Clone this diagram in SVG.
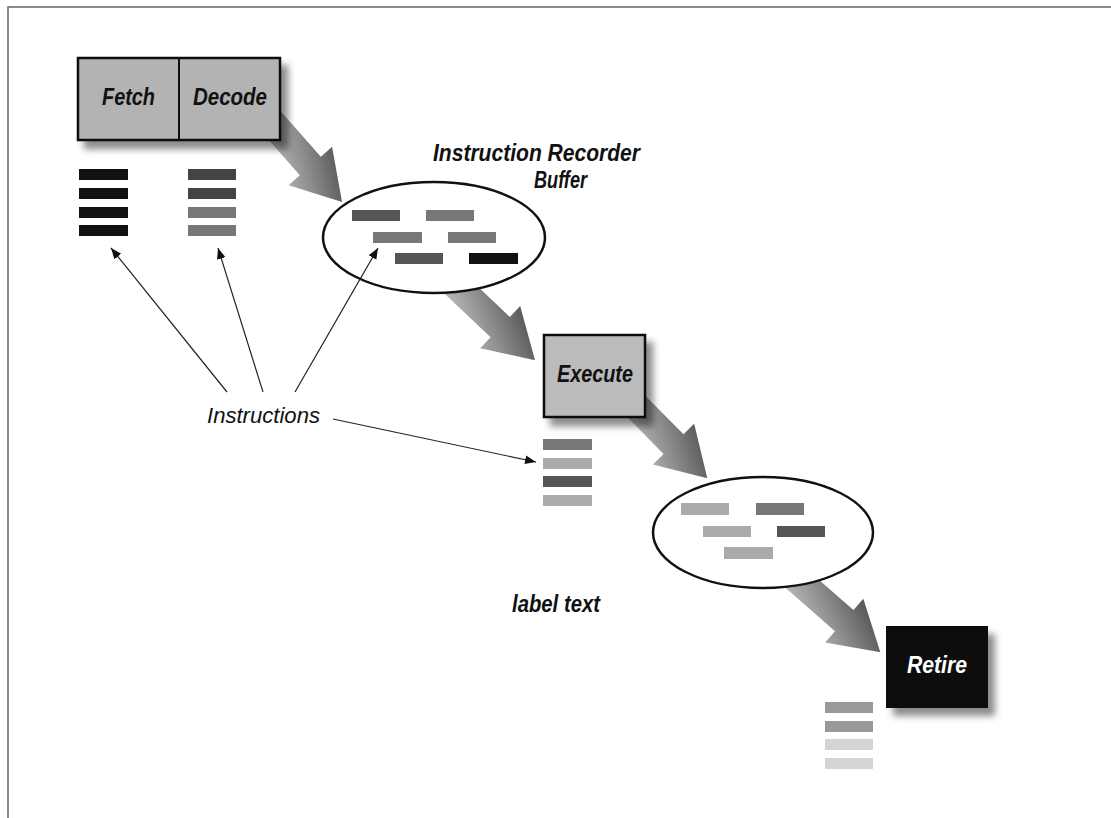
<svg xmlns="http://www.w3.org/2000/svg" width="1111" height="818" viewBox="0 0 1111 818">
<defs>
  <filter id="sh" x="-20%" y="-20%" width="150%" height="150%">
    <feDropShadow dx="7" dy="8" stdDeviation="3.5" flood-color="#000" flood-opacity="0.45"/>
  </filter>
  <linearGradient id="ag" x1="0" y1="1" x2="1" y2="0">
    <stop offset="0" stop-color="#d6d6d6"/>
    <stop offset="0.5" stop-color="#8c8c8c"/>
    <stop offset="1" stop-color="#3c3c3c"/>
  </linearGradient>
  <marker id="ah" viewBox="0 0 10 10" refX="10" refY="5" markerWidth="11" markerHeight="11" markerUnits="userSpaceOnUse" orient="auto">
    <path d="M0,1 L10,5 L0,9 Z" fill="#111"/>
  </marker>
  <style>
    .box{stroke:#111;stroke-width:2.5}
    .lbl{font-family:"Liberation Sans",Arial,sans-serif;font-weight:bold;font-style:italic;font-size:24px;fill:#111}
    .ins{font-family:"Liberation Sans",Arial,sans-serif;font-style:italic;font-size:22px;fill:#111}
    .ell{fill:#fff;stroke:#111;stroke-width:2.5}
    .thin{stroke:#222;stroke-width:1.2;fill:none;marker-end:url(#ah)}
    .big{fill:url(#ag)}
  </style>
</defs>

<rect x="8" y="7" width="1115" height="830" fill="#fff" stroke="#666" stroke-width="1.5"/>

<g id="flow-arrows">
  <path class="big" transform="translate(268,118) rotate(48.6)" d="M0,-14 L64,-14 L64,-29 L112,0 L64,29 L64,14 L0,14 Z"/>
  <path class="big" transform="translate(440,270) rotate(43.5)" d="M0,-14 L83,-14 L83,-29 L131,0 L83,29 L83,14 L0,14 Z"/>
  <path class="big" transform="translate(625,395) rotate(45.3)" d="M0,-14 L69,-14 L69,-29 L117,0 L69,29 L69,14 L0,14 Z"/>
  <path class="big" transform="translate(775,560) rotate(41.2)" d="M0,-14 L92,-14 L92,-29 L140,0 L92,29 L92,14 L0,14 Z"/>
</g>

<g id="fetch-decode">
  <rect class="box" x="78" y="58" width="202" height="82" fill="#b3b3b3" filter="url(#sh)"/>
  <line x1="179" y1="58" x2="179" y2="140" stroke="#111" stroke-width="2"/>
  <text class="lbl" x="102" y="105" textLength="53" lengthAdjust="spacingAndGlyphs">Fetch</text>
  <text class="lbl" x="193" y="105" textLength="74" lengthAdjust="spacingAndGlyphs">Decode</text>
</g>

<g id="fetch-stack">
  <rect x="79" y="169" width="49" height="11" fill="#111"/>
  <rect x="79" y="188" width="49" height="11" fill="#111"/>
  <rect x="79" y="207" width="49" height="11" fill="#111"/>
  <rect x="79" y="225" width="49" height="11" fill="#111"/>
</g>

<g id="decode-stack">
  <rect x="188" y="169" width="48" height="11" fill="#444"/>
  <rect x="188" y="188" width="48" height="11" fill="#444"/>
  <rect x="188" y="207" width="48" height="11" fill="#777"/>
  <rect x="188" y="225" width="48" height="11" fill="#777"/>
</g>

<g id="reorder-buffer">
  <ellipse class="ell" cx="434" cy="237.5" rx="111" ry="55.5"/>
  <rect x="352" y="210" width="48" height="11" fill="#555"/>
  <rect x="426" y="210" width="48" height="11" fill="#777"/>
  <rect x="373" y="232" width="49" height="11" fill="#777"/>
  <rect x="448" y="232" width="48" height="11" fill="#777"/>
  <rect x="395" y="253" width="48" height="11" fill="#555"/>
  <rect x="469" y="253" width="49" height="11" fill="#111"/>
</g>

<g id="buffer-label">
  <text class="lbl" x="433" y="161" font-size="21" textLength="207" lengthAdjust="spacingAndGlyphs">Instruction Recorder</text>
  <text class="lbl" x="534" y="188" font-size="21" textLength="53" lengthAdjust="spacingAndGlyphs">Buffer</text>
</g>

<g id="execute">
  <rect class="box" x="544" y="335" width="101" height="82" fill="#bbbbbb" filter="url(#sh)"/>
  <text class="lbl" x="557" y="382" textLength="76" lengthAdjust="spacingAndGlyphs">Execute</text>
</g>

<g id="execute-stack">
  <rect x="543" y="439" width="49" height="11" fill="#777"/>
  <rect x="543" y="458" width="49" height="11" fill="#aaa"/>
  <rect x="543" y="476" width="49" height="11" fill="#555"/>
  <rect x="543" y="495" width="49" height="11" fill="#aaa"/>
</g>

<g id="instructions-label">
  <text class="ins" x="207" y="423" textLength="113" lengthAdjust="spacingAndGlyphs">Instructions</text>
</g>

<g id="second-buffer">
  <ellipse class="ell" cx="763" cy="532.5" rx="110" ry="55.5"/>
  <rect x="681" y="503" width="48" height="12" fill="#aaa"/>
  <rect x="756" y="503" width="48" height="12" fill="#777"/>
  <rect x="703" y="526" width="48" height="11" fill="#aaa"/>
  <rect x="777" y="526" width="48" height="11" fill="#555"/>
  <rect x="724" y="547" width="49" height="12" fill="#aaa"/>
</g>

<g id="label-text">
  <text class="lbl" x="512" y="612" font-size="22" textLength="88" lengthAdjust="spacingAndGlyphs">label text</text>
</g>

<g id="retire">
  <rect x="886" y="626" width="102" height="82" fill="#111" filter="url(#sh)"/>
  <text class="lbl" x="907" y="673" style="fill:#fff" textLength="60" lengthAdjust="spacingAndGlyphs">Retire</text>
</g>

<g id="retire-stack">
  <rect x="825" y="702" width="48" height="11" fill="#999"/>
  <rect x="825" y="721" width="48" height="11" fill="#999"/>
  <rect x="825" y="739" width="48" height="11" fill="#d4d4d4"/>
  <rect x="825" y="758" width="48" height="11" fill="#d4d4d4"/>
</g>

<g id="connectors">
  <line class="thin" x1="227" y1="392" x2="111" y2="248"/>
  <line class="thin" x1="263" y1="392" x2="218" y2="248"/>
  <line class="thin" x1="295" y1="392" x2="378" y2="248"/>
  <line class="thin" x1="333" y1="419" x2="536" y2="462"/>
</g>
</svg>
